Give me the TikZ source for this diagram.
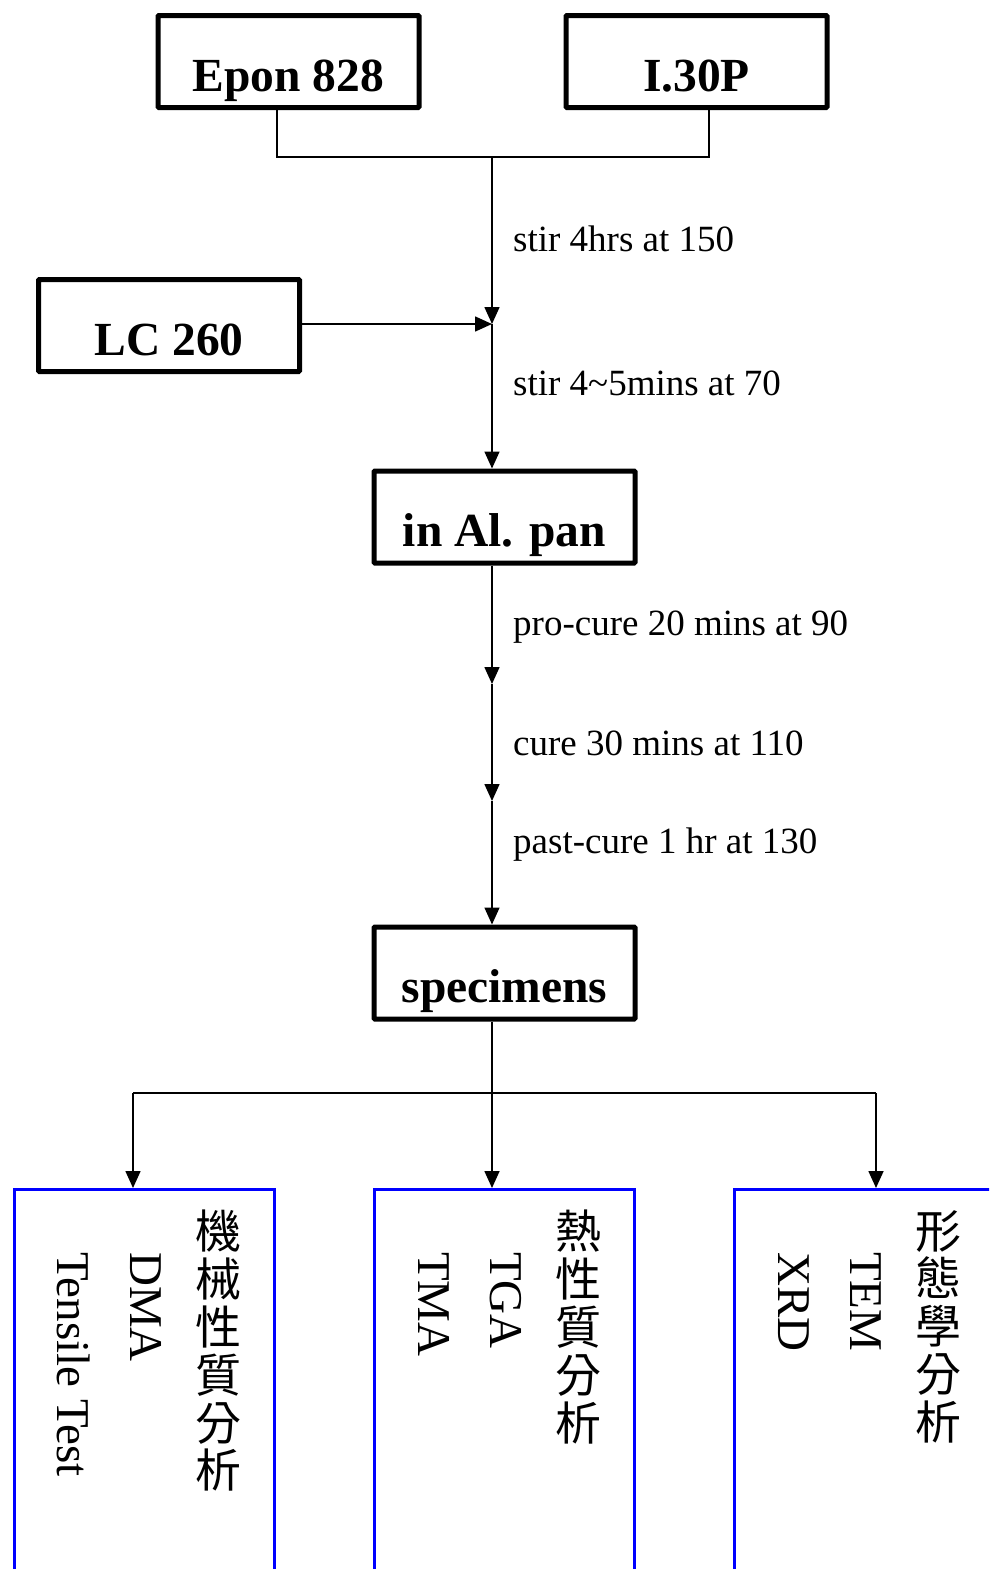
\documentclass[tikz,border=0pt]{standalone}
\usepackage{fontspec}
\setmainfont{Liberation Serif}
\newfontfamily\cjk{Noto Sans CJK TC}
\usetikzlibrary{arrows.meta}
\begin{document}
\begin{tikzpicture}[x=1pt,y=-1pt,
  blackbox/.style={draw,line width=5pt,rounded corners=1pt,inner sep=0pt,
    minimum width=261pt,text height=75.5pt,text depth=16.5pt,
    font=\fontsize{47.5}{50}\selectfont\bfseries},
  bluebox/.style={draw=blue,line width=3pt,inner sep=0pt,minimum width=260pt,minimum height=500pt},
  conn/.style={line width=1.6pt},
  arr/.style={line width=1.6pt,-{Triangle[length=17pt,width=15pt]}},
  lbl/.style={anchor=base west,inner sep=0pt,font=\fontsize{37}{40}\selectfont},
  lat/.style={anchor=base west,inner sep=0pt,rotate=-90,font=\fontsize{47}{50}\selectfont},
  cjkcol/.style={anchor=north,inner sep=0pt,align=center,
    font=\cjk\fontsize{46}{47.8}\selectfont}]
\useasboundingbox (0,0) rectangle (989,1569);
\clip (0,0) rectangle (989,1569);
% top boxes
\node[blackbox] (epon) at (288.5,61.5) {Epon 828};
\node[blackbox] (i30p) at (696.5,61.5) {I.30P};
\node[blackbox] (lc) at (169,325.5) {LC 260};
\node[blackbox] (alpan) at (504.5,517) {in Al. pan};
\node[blackbox] (spec) at (504.5,973) {specimens};
% bottom boxes
\node[bluebox] (mech) at (144.5,1439.5) {};
\node[bluebox] (therm) at (504.5,1439.5) {};
\node[bluebox] (morph) at (864.5,1439.5) {};
% coordinates
\coordinate (join) at (492,157);
\coordinate (mix) at (492,324);
\coordinate (c1) at (492,684);
\coordinate (c2) at (492,801);
\coordinate (split) at (492,1093);
\coordinate (sl) at (133,1093);
\coordinate (sr) at (876,1093);
% connectors
\draw[conn] ([xshift=-11.5pt]epon.south) |- (join) -| ([xshift=12.5pt]i30p.south);
\draw[arr] (join) -- (mix);
\draw[arr] (lc.east |- mix) -- (mix);
\draw[arr] (mix) -- (mix |- alpan.north);
\draw[arr] (alpan.south -| mix) -- (c1);
\draw[arr] (c1) -- (c2);
\draw[arr] (c2) -- (c2 |- spec.north);
\draw[conn] (spec.south -| split) -- (split);
\draw[conn] (sl) -- (sr);
\draw[arr] (sl) -- (sl |- mech.north);
\draw[arr] (split) -- (split |- therm.north);
\draw[arr] (sr) -- (sr |- morph.north);
% labels
\node[lbl] (l1) at (513,251) {stir 4hrs at 150};
\node[lbl] (l2) at (513,395) {stir 4\textasciitilde 5mins at 70};
\node[lbl] (l3) at (513,635) {pro-cure 20 mins at 90};
\node[lbl] (l4) at (513,755) {cure 30 mins at 110};
\node[lbl] (l5) at (513,853) {past-cure 1 hr at 130};
% vertical texts
\node[cjkcol] (mechcn) at (218.5,1210) {機\\械\\性\\質\\分\\析};
\node[lat] (dma) at (130,1252) {DMA};
\node[lat] (tens) at (57,1252) {Tensile Test};
\node[cjkcol] (thermcn) at (578.5,1210) {熱\\性\\質\\分\\析};
\node[lat] (tga) at (490,1252) {TGA};
\node[lat] (tma) at (418,1252) {TMA};
\node[cjkcol] (morphcn) at (938.5,1210) {形\\態\\學\\分\\析};
\node[lat] (tem) at (850,1252) {TEM};
\node[lat] (xrd) at (778,1252) {XRD};
\end{tikzpicture}
\end{document}
